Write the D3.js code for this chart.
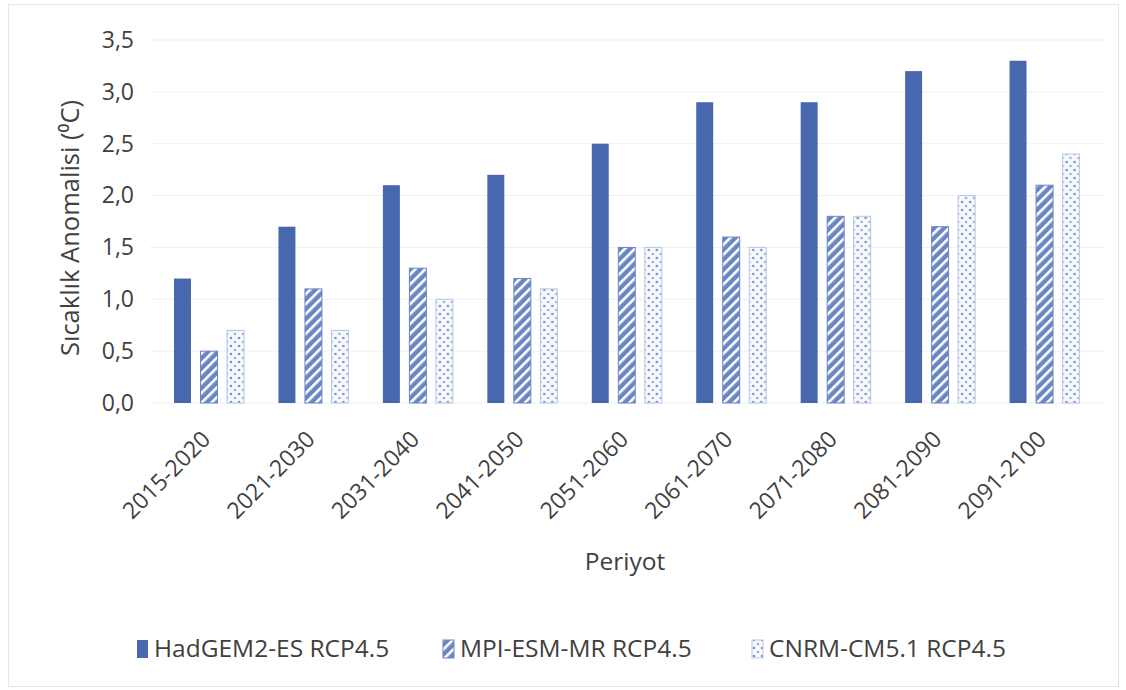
<!DOCTYPE html>
<html><head><meta charset="utf-8">
<script src="https://cdn.jsdelivr.net/npm/d3@7"></script>
<style>body{margin:0;background:#fff}text{font-family:"Open Sans","Noto Sans",sans-serif}</style>
</head><body>
<svg id="c" width="1126" height="690"></svg>
<script>
const categories = ["2015-2020","2021-2030","2031-2040","2041-2050","2051-2060","2061-2070","2071-2080","2081-2090","2091-2100"];
const seriesNames = ["HadGEM2-ES RCP4.5","MPI-ESM-MR RCP4.5","CNRM-CM5.1 RCP4.5"];
const hadgem = [1.2,1.7,2.1,2.2,2.5,2.9,2.9,3.2,3.3];
const mpi = [0.5,1.1,1.3,1.2,1.5,1.6,1.8,1.7,2.1];
const cnrm = [0.7,0.7,1.0,1.1,1.5,1.5,1.8,2.0,2.4];
const yTicks = [0,0.5,1,1.5,2,2.5,3,3.5];
const series = [hadgem, mpi, cnrm];

const svg = d3.select("#c");
const blue = "#4767ae";
const defs = svg.append("defs");
const hp = defs.append("pattern").attr("id","hatch").attr("patternUnits","userSpaceOnUse")
  .attr("width",7).attr("height",7).attr("patternTransform","rotate(45)");
hp.append("rect").attr("width",7).attr("height",7).attr("fill","#6a86c4");
hp.append("rect").attr("x",0).attr("width",2.6).attr("height",7).attr("fill","#ffffff");
const dp = defs.append("pattern").attr("id","dots").attr("patternUnits","userSpaceOnUse")
  .attr("width",8).attr("height",8);
dp.append("rect").attr("width",8).attr("height",8).attr("fill","#f7f9fd");
dp.append("circle").attr("cx",2).attr("cy",2).attr("r",1.3).attr("fill","#7891ca");
dp.append("circle").attr("cx",6).attr("cy",6).attr("r",1.3).attr("fill","#9aafda");
const fills = [blue, "url(#hatch)", "url(#dots)"];
const strokes = ["none", "#6a86c4", "#b6c6e6"];

// border
svg.append("rect").attr("x",8.5).attr("y",4.5).attr("width",1110).attr("height",682)
  .attr("fill","none").attr("stroke","#e4e4e4");

const x = d3.scaleBand().domain(categories).range([157,1097]).paddingInner(0).paddingOuter(0);
const x1 = d3.scaleBand().domain([0,1,2]).range([17, 87]).paddingInner(0.36);
const y = d3.scaleLinear().domain([0,3.5]).range([403,40]);

// grid
svg.append("g").selectAll("line").data(yTicks).join("line")
  .attr("x1",150).attr("x2",1105).attr("y1",d=>y(d)).attr("y2",d=>y(d))
  .attr("stroke","#f0f0f0").attr("stroke-width",1);

// y axis labels
const yAxis = d3.axisLeft(y).tickValues(yTicks).tickSize(0).tickPadding(0)
  .tickFormat(d=>d3.format(".1f")(d).replace(".",","));
const ga = svg.append("g").attr("transform","translate(134,0)").call(yAxis);
ga.select(".domain").remove();
ga.selectAll("text").attr("font-size",23).attr("fill","#404040").attr("font-family","Open Sans");

// bars
const groups = svg.append("g").selectAll("g").data(categories).join("g")
  .attr("transform",d=>`translate(${x(d)},0)`);
groups.selectAll("rect").data((d,i)=>series.map((s,k)=>({k,v:s[i]}))).join("rect")
  .attr("x",d=>x1(d.k)).attr("width",x1.bandwidth())
  .attr("y",d=>y(d.v)).attr("height",d=>y(0)-y(d.v))
  .attr("fill",d=>fills[d.k]).attr("stroke",d=>strokes[d.k]).attr("stroke-width",1);

// x axis labels
const xAxis = d3.axisBottom(x).tickSize(0).tickPadding(0);
const gx = svg.append("g").attr("transform","translate(0,418)").call(xAxis);
gx.select(".domain").remove();
gx.selectAll("text").attr("font-size",23).attr("fill","#404040")
  .attr("text-anchor","end").attr("dy","0.35em")
  .attr("transform","translate(-3,17) rotate(-45)");

// axis titles
svg.append("text").attr("x",625).attr("y",570).attr("text-anchor","middle")
  .attr("font-size",24.5).attr("fill","#404040").text("Periyot");
svg.append("text").attr("transform","translate(79,228) rotate(-90)").attr("text-anchor","middle")
  .attr("font-size",25.5).attr("fill","#404040").text("Sıcaklık Anomalisi (⁰C)");

// legend
const lx = [137, 443, 752];
const lg = svg.append("g").selectAll("g").data(seriesNames).join("g")
  .attr("transform",(d,i)=>`translate(${lx[i]},638)`);
lg.append("rect").attr("width",11).attr("height",18).attr("y",2)
  .attr("fill",(d,i)=>fills[i]).attr("stroke",(d,i)=>strokes[i]);
lg.append("text").attr("x",17).attr("y",19).attr("font-size",24.5).attr("fill","#404040").text(d=>d);
</script>
</body></html>
